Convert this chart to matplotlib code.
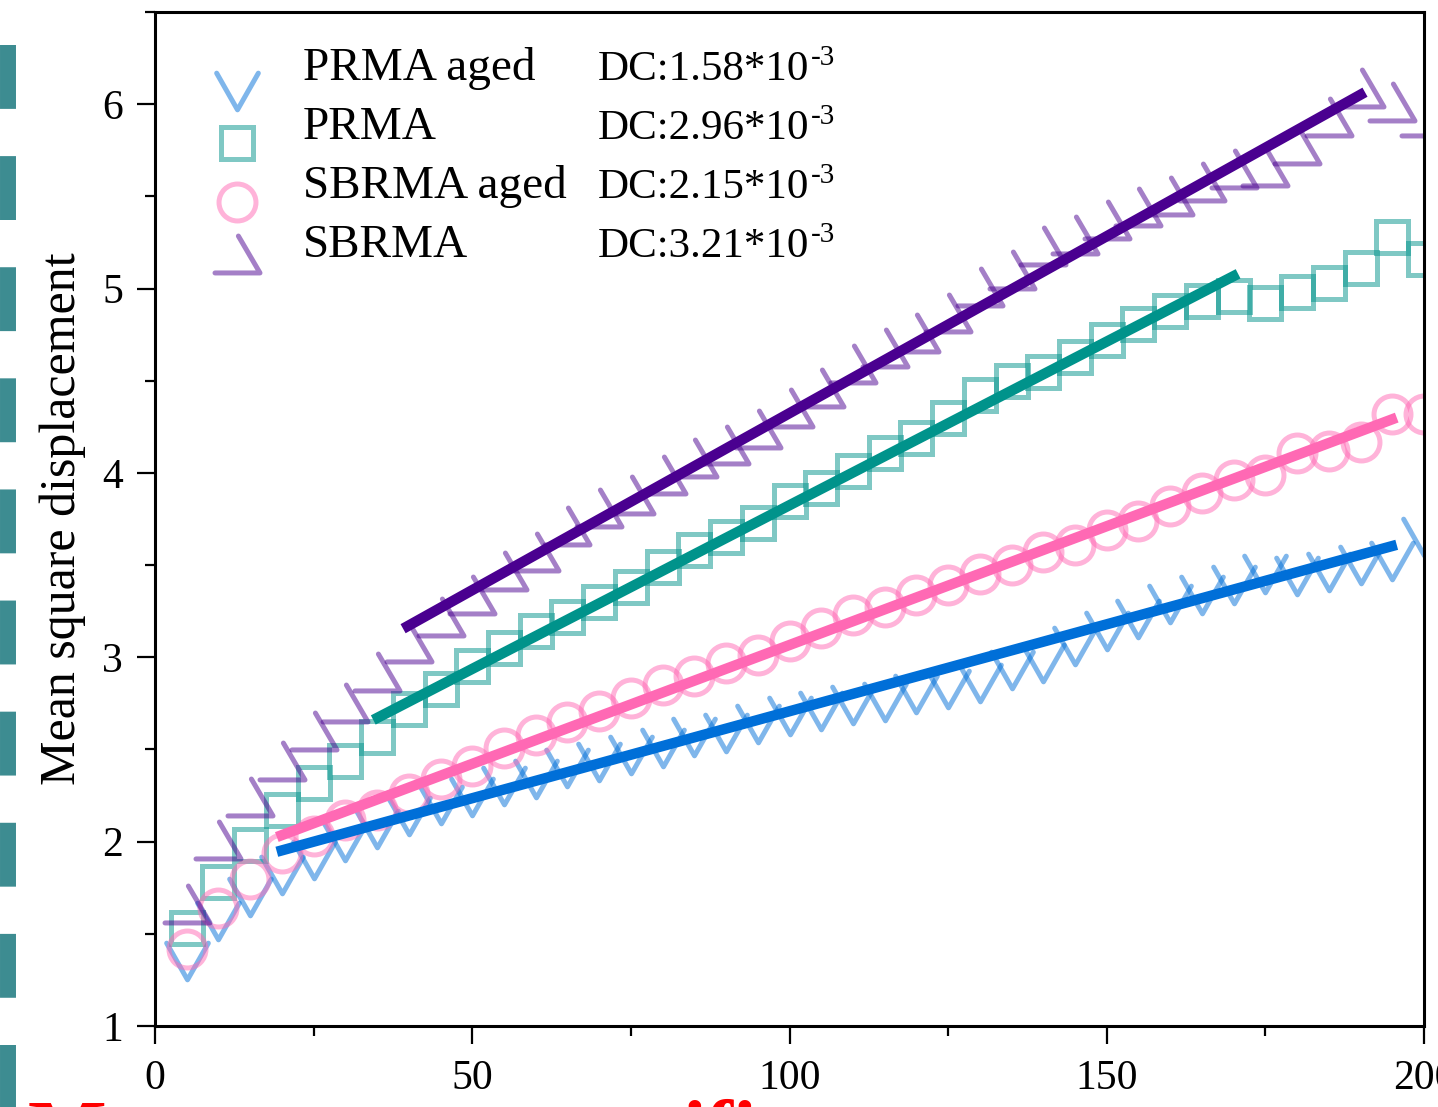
import numpy as np
import matplotlib
matplotlib.use("Agg")
import matplotlib.pyplot as plt
from matplotlib.path import Path
from matplotlib.markers import MarkerStyle
from matplotlib.lines import Line2D

plt.rcParams['font.family'] = ['Liberation Serif', 'DejaVu Serif']
plt.rcParams['lines.scale_dashes'] = False

# === Data ===
time = [5, 10, 15, 20, 25, 30, 35, 40, 45, 50, 55, 60, 65, 70, 75, 80, 85, 90, 95, 100,
        105, 110, 115, 120, 125, 130, 135, 140, 145, 150, 155, 160, 165, 170, 175, 180,
        185, 190, 195, 200]

prma_aged = [1.35, 1.57, 1.70, 1.82, 1.90, 2.00, 2.07, 2.14, 2.20, 2.24, 2.30, 2.34, 2.40,
             2.43, 2.47, 2.51, 2.57, 2.59, 2.64, 2.68, 2.71, 2.74, 2.76, 2.80, 2.83, 2.86,
             2.93, 2.97, 3.06, 3.14, 3.21, 3.29, 3.34, 3.39, 3.45, 3.44, 3.46, 3.50, 3.52,
             3.65]
prma = [1.53, 1.78, 1.98, 2.17, 2.32, 2.44, 2.57, 2.72, 2.83, 2.95, 3.05, 3.14, 3.22, 3.30,
        3.38, 3.49, 3.58, 3.65, 3.73, 3.85, 3.92, 4.01, 4.11, 4.19, 4.30, 4.42, 4.50, 4.55,
        4.63, 4.72, 4.81, 4.88, 4.93, 4.96, 4.92, 4.98, 5.03, 5.11, 5.28, 5.16]
sbrma_aged = [1.42, 1.64, 1.80, 1.94, 2.03, 2.12, 2.17, 2.26, 2.34, 2.41, 2.51, 2.58, 2.65,
              2.71, 2.78, 2.85, 2.90, 2.97, 3.01, 3.09, 3.16, 3.23, 3.27, 3.34, 3.39, 3.45,
              3.50, 3.57, 3.61, 3.69, 3.74, 3.82, 3.89, 3.96, 3.99, 4.11, 4.12, 4.17, 4.32,
              4.32]
sbrma = [1.66, 2.01, 2.24, 2.44, 2.60, 2.75, 2.92, 3.08, 3.22, 3.34, 3.47, 3.57, 3.71, 3.81,
         3.88, 3.99, 4.08, 4.15, 4.24, 4.35, 4.46, 4.59, 4.68, 4.76, 4.87, 5.01, 5.10, 5.23,
         5.29, 5.37, 5.44, 5.50, 5.58, 5.65, 5.66, 5.78, 5.93, 6.09, 6.01, 5.93]

# linear fits: start / end points
fit_prma_aged_x = [19.2, 195.7]
fit_prma_aged_y = [1.945, 3.61]
fit_prma_x = [34.4, 170.7]
fit_prma_y = [2.66, 5.08]
fit_sbrma_aged_x = [19.2, 195.7]
fit_sbrma_aged_y = [2.025, 4.30]
fit_sbrma_x = [39.1, 190.7]
fit_sbrma_y = [3.155, 6.065]

labels = ["PRMA aged", "PRMA", "SBRMA aged", "SBRMA"]
dc_values = ["1.58", "2.96", "2.15", "3.21"]

# === Styles ===
c_blue, c_teal, c_pink, c_purple = '#006FD8', '#00938B', '#FF69B4', '#4A0090'

v_path = Path([(-1, 0.88), (0, -0.88), (1, 0.88)],
              [Path.MOVETO, Path.LINETO, Path.LINETO])
tri_path = Path([(0.04, 0.82), (1, -0.82), (-1, -0.82)],
                [Path.MOVETO, Path.LINETO, Path.LINETO])
m_v = MarkerStyle(v_path, capstyle='round', joinstyle='round')
m_tri = MarkerStyle(tri_path, capstyle='round', joinstyle='round')

series = [
    (prma_aged, m_v, 30, c_blue),
    (prma, 's', 23, c_teal),
    (sbrma_aged, 'o', 26.6, c_pink),
    (sbrma, m_tri, 32.4, c_purple),
]
fits = [
    (fit_prma_aged_x, fit_prma_aged_y, c_blue),
    (fit_prma_x, fit_prma_y, c_teal),
    (fit_sbrma_aged_x, fit_sbrma_aged_y, c_pink),
    (fit_sbrma_x, fit_sbrma_y, c_purple),
]

fig = plt.figure(figsize=(14.38, 11.07), dpi=100)
ax = fig.add_axes([155 / 1438, 81 / 1107, 1269 / 1438, 1014 / 1107])

for ys, mk, ms, col in series:
    ax.plot(time, ys, linestyle='none', marker=mk, markersize=ms,
            markerfacecolor='none', markeredgecolor=col, markeredgewidth=3.6,
            alpha=0.5)

for fx, fy, col in fits:
    ax.plot(fx, fy, color=col, lw=7.5, solid_capstyle='butt')

ax.set_xlim(0, 200)
ax.set_ylim(1, 6.5)
ax.set_xticks([0, 50, 100, 150, 200])
ax.set_xticks([25, 75, 125, 175], minor=True)
ax.set_yticks([1, 2, 3, 4, 5, 6])
ax.set_yticks([1.5, 2.5, 3.5, 4.5, 5.5, 6.5], minor=True)
ax.tick_params(which='both', direction='out', width=1.6, labelsize=30)
ax.tick_params(axis='x', which='major', length=13, pad=11)
ax.tick_params(axis='x', which='minor', length=7)
ax.tick_params(axis='y', which='major', length=13, pad=10)
ax.tick_params(axis='y', which='minor', length=7)
for sp in ax.spines.values():
    sp.set_linewidth(2.2)

ax.set_ylabel("Mean square displacement", fontsize=36, labelpad=12)

# legend drawn by hand so the DC column lines up
leg_marker_y = [0.9221, 0.8713, 0.8126, 0.7613]
leg_text_y = [0.9329, 0.8748, 0.8166, 0.7584]
for i, (ys, mk, ms, col) in enumerate(series):
    ax.plot([0.0646], [leg_marker_y[i]], transform=ax.transAxes, linestyle='none',
            marker=mk, markersize=ms, markerfacecolor='none', markeredgecolor=col,
            markeredgewidth=3.6, alpha=0.5, clip_on=False)
    ax.text(0.1166, leg_text_y[i], labels[i], transform=ax.transAxes,
            fontsize=34, va='baseline', ha='left')
    base = ax.text(0.349, leg_text_y[i], "DC:" + dc_values[i] + "*10",
                   transform=ax.transAxes, fontsize=31, va='baseline', ha='left')
    ax.annotate("-3", xy=(1, 1), xycoords=base, xytext=(1, 4),
                textcoords='offset points', fontsize=21, va='top', ha='left')

# neighbouring panel pieces visible in the crop
fig.add_artist(Line2D([8 / 1438, 8 / 1438], [1 - 45 / 1107, -0.05],
                      transform=fig.transFigure, color='#3D8C91', lw=11.5,
                      dashes=(46, 34), solid_capstyle='butt', dash_capstyle='butt'))
fig.text(28 / 1438, 1 - 1100 / 1107, "M", color='red', fontsize=60,
         fontweight='bold', va='top', ha='left')
fig.text(682 / 1438, 1 - 1100 / 1107, "ifi", color='red', fontsize=60,
         fontweight='bold', va='top', ha='left')

fig.savefig("out.png", dpi=100)
